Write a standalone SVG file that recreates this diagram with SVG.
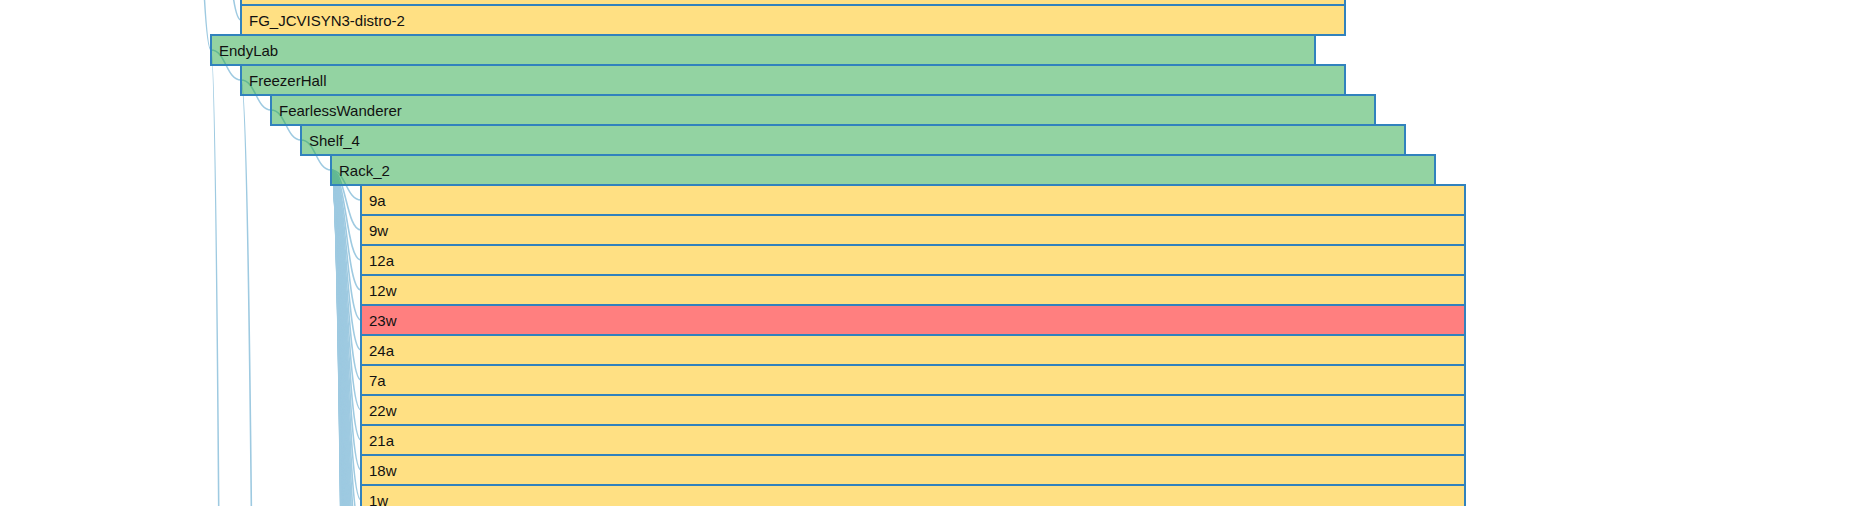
<svg xmlns="http://www.w3.org/2000/svg" width="1858" height="506" viewBox="0 0 1858 506">
<style>
.link{fill:none;stroke:#9ecae1;stroke-width:1.6px}
.node rect{fill-opacity:.5;stroke:#3182bd;stroke-width:2px}
.g rect{fill:#28a745}
.y rect{fill:#ffc107}
.r rect{fill:#ff0000}
.node text{font-family:"Liberation Sans",Arial,sans-serif;font-size:15px;fill:#111}
</style>
<rect width="1858" height="506" fill="#fff"/>
<g id="links">
<path class="link" d="M181,-600C196,-600 196,50 211,50"/>
<path class="link" d="M211,-180C226,-180 226,20 241,20"/>
<path class="link" d="M211,50C226,50 226,4100 241,4100"/>
<path class="link" d="M211,50C226,50 226,80 241,80"/>
<path class="link" d="M241,80C256,80 256,2000 271,2000"/>
<path class="link" d="M241,80C256,80 256,110 271,110"/>
<path class="link" d="M271,110C286,110 286,140 301,140"/>
<path class="link" d="M301,140C316,140 316,170 331,170"/>
<path class="link" d="M331,170C346,170 346,200 361,200"/>
<path class="link" d="M331,170C346,170 346,230 361,230"/>
<path class="link" d="M331,170C346,170 346,260 361,260"/>
<path class="link" d="M331,170C346,170 346,290 361,290"/>
<path class="link" d="M331,170C346,170 346,320 361,320"/>
<path class="link" d="M331,170C346,170 346,350 361,350"/>
<path class="link" d="M331,170C346,170 346,380 361,380"/>
<path class="link" d="M331,170C346,170 346,410 361,410"/>
<path class="link" d="M331,170C346,170 346,440 361,440"/>
<path class="link" d="M331,170C346,170 346,470 361,470"/>
<path class="link" d="M331,170C346,170 346,500 361,500"/>
<path class="link" d="M331,170C346,170 346,530 361,530"/>
<path class="link" d="M331,170C346,170 346,560 361,560"/>
<path class="link" d="M331,170C346,170 346,590 361,590"/>
<path class="link" d="M331,170C346,170 346,620 361,620"/>
<path class="link" d="M331,170C346,170 346,650 361,650"/>
<path class="link" d="M331,170C346,170 346,680 361,680"/>
<path class="link" d="M331,170C346,170 346,710 361,710"/>
<path class="link" d="M331,170C346,170 346,740 361,740"/>
<path class="link" d="M331,170C346,170 346,770 361,770"/>
<path class="link" d="M331,170C346,170 346,800 361,800"/>
<path class="link" d="M331,170C346,170 346,830 361,830"/>
<path class="link" d="M331,170C346,170 346,860 361,860"/>
<path class="link" d="M331,170C346,170 346,890 361,890"/>
<path class="link" d="M331,170C346,170 346,920 361,920"/>
<path class="link" d="M331,170C346,170 346,950 361,950"/>
<path class="link" d="M331,170C346,170 346,980 361,980"/>
<path class="link" d="M331,170C346,170 346,1010 361,1010"/>
<path class="link" d="M331,170C346,170 346,1040 361,1040"/>
<path class="link" d="M331,170C346,170 346,1070 361,1070"/>
<path class="link" d="M331,170C346,170 346,1100 361,1100"/>
<path class="link" d="M331,170C346,170 346,1130 361,1130"/>
<path class="link" d="M331,170C346,170 346,1160 361,1160"/>
<path class="link" d="M331,170C346,170 346,1190 361,1190"/>
<path class="link" d="M331,170C346,170 346,1220 361,1220"/>
<path class="link" d="M331,170C346,170 346,1250 361,1250"/>
<path class="link" d="M331,170C346,170 346,1280 361,1280"/>
<path class="link" d="M331,170C346,170 346,1310 361,1310"/>
<path class="link" d="M331,170C346,170 346,1340 361,1340"/>
<path class="link" d="M331,170C346,170 346,1370 361,1370"/>
<path class="link" d="M331,170C346,170 346,1400 361,1400"/>
<path class="link" d="M331,170C346,170 346,1430 361,1430"/>
<path class="link" d="M331,170C346,170 346,1460 361,1460"/>
<path class="link" d="M331,170C346,170 346,1490 361,1490"/>
<path class="link" d="M331,170C346,170 346,1520 361,1520"/>
<path class="link" d="M331,170C346,170 346,1550 361,1550"/>
<path class="link" d="M331,170C346,170 346,1580 361,1580"/>
<path class="link" d="M331,170C346,170 346,1610 361,1610"/>
<path class="link" d="M331,170C346,170 346,1640 361,1640"/>
<path class="link" d="M331,170C346,170 346,1670 361,1670"/>
<path class="link" d="M331,170C346,170 346,1700 361,1700"/>
<path class="link" d="M331,170C346,170 346,1730 361,1730"/>
<path class="link" d="M331,170C346,170 346,1760 361,1760"/>
<path class="link" d="M331,170C346,170 346,1790 361,1790"/>
<path class="link" d="M331,170C346,170 346,1820 361,1820"/>
<path class="link" d="M331,170C346,170 346,1850 361,1850"/>
<path class="link" d="M331,170C346,170 346,1880 361,1880"/>
<path class="link" d="M331,170C346,170 346,1910 361,1910"/>
<path class="link" d="M331,170C346,170 346,1940 361,1940"/>
<path class="link" d="M331,170C346,170 346,1970 361,1970"/>
</g>
<g id="node-prev" class="node y"><rect x="241" y="-25" width="1104" height="30"/></g>
<g id="node-fg" class="node y"><rect x="241" y="5" width="1104" height="30"/><text x="249" y="25.5">FG_JCVISYN3-distro-2</text></g>
<g id="node-endylab" class="node g"><rect x="211" y="35" width="1104" height="30"/><text x="219" y="55.5">EndyLab</text></g>
<g id="node-freezerhall" class="node g"><rect x="241" y="65" width="1104" height="30"/><text x="249" y="85.5">FreezerHall</text></g>
<g id="node-fearlesswanderer" class="node g"><rect x="271" y="95" width="1104" height="30"/><text x="279" y="115.5">FearlessWanderer</text></g>
<g id="node-shelf4" class="node g"><rect x="301" y="125" width="1104" height="30"/><text x="309" y="145.5">Shelf_4</text></g>
<g id="node-rack2" class="node g"><rect x="331" y="155" width="1104" height="30"/><text x="339" y="175.5">Rack_2</text></g>
<g id="node-9a" class="node y"><rect x="361" y="185" width="1104" height="30"/><text x="369" y="205.5">9a</text></g>
<g id="node-9w" class="node y"><rect x="361" y="215" width="1104" height="30"/><text x="369" y="235.5">9w</text></g>
<g id="node-12a" class="node y"><rect x="361" y="245" width="1104" height="30"/><text x="369" y="265.5">12a</text></g>
<g id="node-12w" class="node y"><rect x="361" y="275" width="1104" height="30"/><text x="369" y="295.5">12w</text></g>
<g id="node-23w" class="node r"><rect x="361" y="305" width="1104" height="30"/><text x="369" y="325.5">23w</text></g>
<g id="node-24a" class="node y"><rect x="361" y="335" width="1104" height="30"/><text x="369" y="355.5">24a</text></g>
<g id="node-7a" class="node y"><rect x="361" y="365" width="1104" height="30"/><text x="369" y="385.5">7a</text></g>
<g id="node-22w" class="node y"><rect x="361" y="395" width="1104" height="30"/><text x="369" y="415.5">22w</text></g>
<g id="node-21a" class="node y"><rect x="361" y="425" width="1104" height="30"/><text x="369" y="445.5">21a</text></g>
<g id="node-18w" class="node y"><rect x="361" y="455" width="1104" height="30"/><text x="369" y="475.5">18w</text></g>
<g id="node-1w" class="node y"><rect x="361" y="485" width="1104" height="30"/><text x="369" y="505.5">1w</text></g>
</svg>
